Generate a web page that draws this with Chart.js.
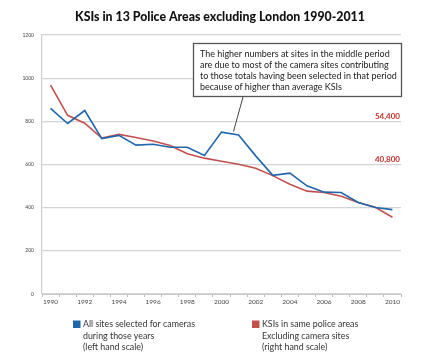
<!DOCTYPE html>
<html><head><meta charset="utf-8">
<script src="https://cdn.jsdelivr.net/npm/chart.js@4.4.0/dist/chart.umd.min.js"></script>
<style>html,body{margin:0;padding:0;background:#fff}#wrap{width:439px;height:363px;position:relative}</style>
</head><body><div id="wrap"><canvas id="c" width="439" height="363"></canvas></div>
<script>
const title = "KSIs in 13 Police Areas excluding London 1990-2011";
const years = ["1990","1991","1992","1993","1994","1995","1996","1997","1998","1999","2000","2001","2002","2003","2004","2005","2006","2007","2008","2009","2010"];
const cameraSites = [860,790,850,720,735,690,694,680,680,642,750,737,640,550,560,501,472,470,424,401,391];
const otherSites = [65800,56300,53800,49100,50300,49300,48200,46800,44200,42800,41800,40900,39600,37300,34600,32400,32000,30800,28800,27300,24200];
const leftTicks = [0,200,400,600,800,1000,1200];
const rightLabels = [54400,40800];
const scaleRatio = 68;
const blueLabel = ["All sites selected for cameras","during those years","(left hand scale)"];
const redLabel = ["KSIs in same police areas","Excluding camera sites","(right hand scale)"];
const note = ["The higher numbers at sites in the middle period","are due to most of the camera sites contributing","to those totals having been selected in that period","because of higher than average KSIs"];
const BLUE = "#2066ad", RED = "#c4504e";

function fitFont(ctx, text, weight, family, target){
  ctx.font = weight+" 20px "+family;
  const w = ctx.measureText(text).width;
  return 20*target/w;
}

const extras = {
  id:'extras',
  afterDraw(chart){
    const ctx = chart.ctx, ca = chart.chartArea;
    const y2 = chart.scales.y2;
    ctx.save();
    // title
    let fs = fitFont(ctx, title, "900", "Lato", 290);
    ctx.font = "900 "+fs+"px Lato";
    ctx.fillStyle = "#111"; ctx.textAlign="center"; ctx.textBaseline="middle";
    ctx.fillText(title, 220, 17);
    // right labels
    ctx.font = "bold 8px Lato"; ctx.fillStyle="#c0302a"; ctx.textAlign="right"; ctx.textBaseline="bottom";
    rightLabels.forEach(v=>{
      ctx.fillText(v.toLocaleString('en-US'), ca.right-1, y2.getPixelForValue(v)-1);
    });
    // annotation pointer
    ctx.strokeStyle="#444"; ctx.lineWidth=1;
    ctx.beginPath(); ctx.moveTo(243,97); ctx.lineTo(233.5,131.5); ctx.stroke();
    // annotation box
    ctx.fillStyle="#fff"; ctx.fillRect(193,43,209,54);
    ctx.strokeStyle="#555"; ctx.lineWidth=1.3; ctx.strokeRect(193.5,43.5,208,53);
    fs = fitFont(ctx, note[0], "normal", "Lato", 190);
    ctx.font = fs+"px Lato"; ctx.fillStyle="#222"; ctx.textAlign="left"; ctx.textBaseline="middle";
    note.forEach((t,i)=>ctx.fillText(t, 200, 54+i*11));
    // legend
    fs = fitFont(ctx, blueLabel[0], "normal", "Lato", 112);
    [[blueLabel,BLUE,73],[redLabel,RED,252]].forEach(([lines,col,lx])=>{
      ctx.fillStyle=col; ctx.fillRect(lx,320.5,7.5,7.5);
      ctx.font = fs+"px Lato"; ctx.fillStyle="#333"; ctx.textAlign="left"; ctx.textBaseline="middle";
      lines.forEach((t,i)=>ctx.fillText(t, lx+10, 324.5+i*11.5));
    });
    ctx.restore();
  }
};

new Chart(document.getElementById('c'), {
  type:'line',
  data:{labels:years, datasets:[
    {label:blueLabel.join(' '), data:cameraSites, borderColor:BLUE, borderWidth:1.6, pointRadius:0, tension:0, yAxisID:'y'},
    {label:redLabel.join(' '), data:otherSites, borderColor:RED, borderWidth:1.6, pointRadius:0, tension:0, yAxisID:'y2'}
  ]},
  options:{
    responsive:false, animation:false,
    layout:{padding:{left:0,right:38,top:35,bottom:55}},
    plugins:{legend:{display:false}, title:{display:false}, tooltip:{enabled:false}},
    scales:{
      x:{offset:true,
        grid:{display:true, drawOnChartArea:false, tickLength:3, color:'#bbb', offset:true},
        border:{color:'#c8c8c8', width:1},
        ticks:{autoSkip:false, maxRotation:0, padding:1, color:'#444', font:{size:6.5, family:'Lato'},
          callback:(v,i)=> i%2===0 ? years[i] : ''},
        afterFit:s=>{s.height=14;}
      },
      y:{min:0,max:1200, afterBuildTicks:s=>{s.ticks=leftTicks.map(v=>({value:v}));},
        grid:{color:'#d4d4d4', lineWidth:1.2, drawTicks:false},
        border:{display:true,color:'#cfcfcf',width:1.2},
        ticks:{padding:8, color:'#444', font:{size:5, family:'Lato'}, callback:v=>String(v)},
        afterFit:s=>{s.width=42;}
      },
      y2:{display:false, min:0, max:1200*scaleRatio}
    }
  },
  plugins:[extras]
});
</script></body></html>
